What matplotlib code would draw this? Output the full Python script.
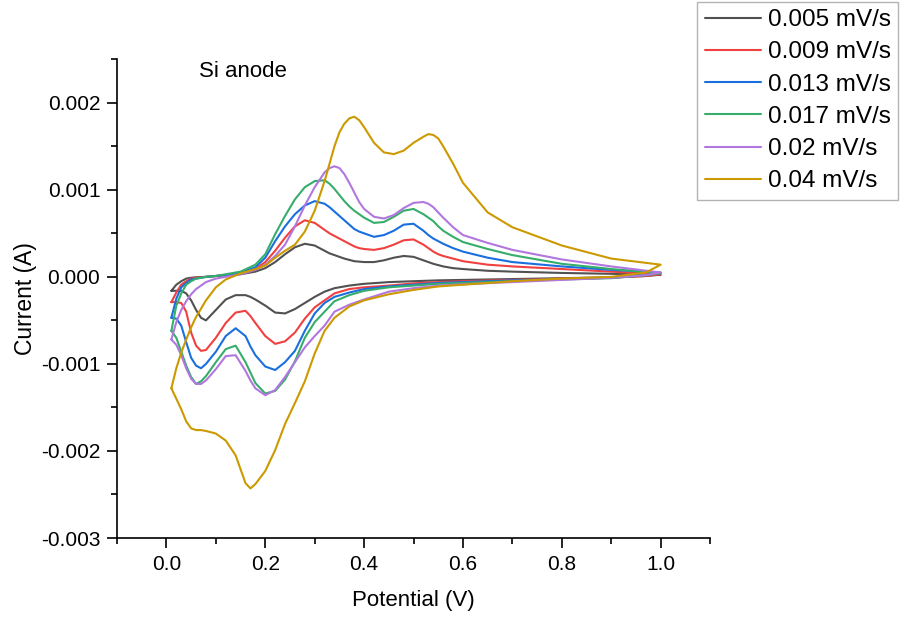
import numpy as np
import matplotlib
matplotlib.use("Agg")
import matplotlib.pyplot as plt
from matplotlib.ticker import MultipleLocator, FormatStrFormatter

plt.rcParams['font.family'] = ['Liberation Sans', 'DejaVu Sans']
plt.rcParams['axes.unicode_minus'] = False

# sweep potentials (V): anodic sweep 0.01 -> 1.0, then cathodic sweep back
pot_fwd = [0.01, 0.02, 0.03, 0.04, 0.05, 0.06, 0.08, 0.10, 0.12,
           0.15, 0.18, 0.20, 0.22, 0.24, 0.26, 0.28, 0.30,
           0.32, 0.33, 0.34, 0.35, 0.36, 0.37, 0.38, 0.39, 0.40,
           0.42, 0.44, 0.46, 0.48, 0.50, 0.52,
           0.53, 0.54, 0.55, 0.56, 0.58, 0.60,
           0.65, 0.70, 0.80, 0.90, 1.00]
pot_rev = [1.00, 0.97, 0.90, 0.80, 0.70, 0.60, 0.55, 0.50, 0.45, 0.40, 0.37, 0.34,
           0.32, 0.30, 0.28, 0.26, 0.24, 0.22, 0.20, 0.18, 0.17, 0.16, 0.14, 0.12,
           0.10, 0.08, 0.07, 0.06, 0.05, 0.04, 0.03, 0.02, 0.01]

labels = ['0.005 mV/s', '0.009 mV/s', '0.013 mV/s', '0.017 mV/s', '0.02 mV/s', '0.04 mV/s']
colors = ['#515151', '#F14040', '#1A6FDF', '#37AD6B', '#B177DE', '#CC9900']

# currents in mA
i_fwd_005 = [-0.16, -0.09, -0.05, -0.02, -0.01, -0.005, 0.0, 0.01, 0.02,
             0.03, 0.06, 0.10, 0.17, 0.26, 0.34, 0.38, 0.36,
             0.30, 0.27, 0.25, 0.23, 0.21, 0.195, 0.18, 0.175, 0.17,
             0.17, 0.19, 0.22, 0.24, 0.23, 0.19,
             0.17, 0.15, 0.135, 0.12, 0.10, 0.09,
             0.07, 0.06, 0.045, 0.035, 0.025]
i_rev_005 = [0.025, 0.01, -0.005, -0.015, -0.025, -0.035, -0.04, -0.05, -0.06, -0.08, -0.10, -0.13,
             -0.17, -0.23, -0.30, -0.37, -0.42, -0.41, -0.33, -0.26, -0.23, -0.21, -0.21, -0.26,
             -0.38, -0.50, -0.47, -0.38, -0.27, -0.19, -0.16, -0.16, -0.16]

i_fwd_009 = [-0.29, -0.18, -0.09, -0.05, -0.02, -0.01, 0.0, 0.01, 0.02,
             0.04, 0.09, 0.17, 0.30, 0.45, 0.58, 0.65, 0.62,
             0.54, 0.50, 0.47, 0.44, 0.41, 0.38, 0.35, 0.33, 0.32,
             0.31, 0.33, 0.37, 0.42, 0.43, 0.37,
             0.33, 0.29, 0.26, 0.24, 0.21, 0.18,
             0.14, 0.12, 0.09, 0.06, 0.03]
i_rev_009 = [0.03, 0.01, -0.01, -0.02, -0.035, -0.05, -0.06, -0.075, -0.10, -0.12, -0.14, -0.19,
             -0.27, -0.35, -0.48, -0.64, -0.74, -0.77, -0.68, -0.53, -0.45, -0.39, -0.41, -0.53,
             -0.70, -0.84, -0.85, -0.79, -0.64, -0.40, -0.30, -0.29, -0.29]

i_fwd_013 = [-0.47, -0.25, -0.12, -0.07, -0.03, -0.02, 0.0, 0.01, 0.02,
             0.05, 0.11, 0.22, 0.41, 0.58, 0.72, 0.82, 0.87,
             0.84, 0.80, 0.75, 0.70, 0.65, 0.60, 0.55, 0.52, 0.50,
             0.46, 0.48, 0.53, 0.60, 0.61, 0.53,
             0.48, 0.44, 0.41, 0.38, 0.33, 0.29,
             0.22, 0.17, 0.12, 0.08, 0.05]
i_rev_013 = [0.05, 0.02, -0.01, -0.025, -0.04, -0.06, -0.07, -0.09, -0.11, -0.14, -0.18, -0.23,
             -0.30, -0.42, -0.62, -0.85, -0.98, -1.07, -1.03, -0.90, -0.80, -0.68, -0.59, -0.68,
             -0.86, -1.00, -1.05, -1.02, -0.93, -0.75, -0.56, -0.48, -0.47]

i_fwd_017 = [-0.62, -0.33, -0.19, -0.09, -0.05, -0.02, 0.0, 0.01, 0.03,
             0.06, 0.14, 0.26, 0.49, 0.70, 0.89, 1.03, 1.10,
             1.11, 1.07, 1.01, 0.94, 0.87, 0.81, 0.76, 0.72, 0.68,
             0.62, 0.63, 0.69, 0.76, 0.78, 0.72,
             0.68, 0.64, 0.58, 0.53, 0.46, 0.40,
             0.32, 0.25, 0.15, 0.09, 0.04]
i_rev_017 = [0.04, 0.02, -0.015, -0.03, -0.05, -0.07, -0.08, -0.10, -0.12, -0.16, -0.21, -0.28,
             -0.40, -0.52, -0.70, -0.97, -1.18, -1.31, -1.34, -1.22, -1.10, -0.98, -0.79, -0.83,
             -0.98, -1.14, -1.20, -1.23, -1.15, -1.02, -0.86, -0.70, -0.62]

i_fwd_02 = [-0.72, -0.52, -0.38, -0.28, -0.20, -0.14, -0.06, -0.02, 0.0,
            0.03, 0.08, 0.14, 0.24, 0.37, 0.58, 0.82, 1.03,
            1.20, 1.25, 1.27, 1.25, 1.18, 1.08, 0.97, 0.86, 0.78,
            0.69, 0.67, 0.71, 0.79, 0.85, 0.86,
            0.84, 0.80, 0.74, 0.68, 0.57, 0.48,
            0.39, 0.31, 0.20, 0.12, 0.05]
i_rev_02 = [0.05, 0.02, -0.01, -0.035, -0.06, -0.085, -0.10, -0.13, -0.17, -0.26, -0.32, -0.40,
            -0.56, -0.68, -0.81, -0.98, -1.15, -1.30, -1.36, -1.28, -1.19, -1.08, -0.90, -0.91,
            -1.06, -1.19, -1.23, -1.23, -1.17, -1.05, -0.90, -0.78, -0.72]

i_fwd_04 = [-1.28, -1.05, -0.87, -0.72, -0.58, -0.46, -0.27, -0.12, -0.03,
            0.04, 0.09, 0.13, 0.22, 0.30, 0.37, 0.52, 0.76,
            1.10, 1.30, 1.50, 1.66, 1.76, 1.82, 1.84, 1.80, 1.72,
            1.54, 1.43, 1.41, 1.45, 1.54, 1.61,
            1.64, 1.63, 1.59, 1.50, 1.30, 1.08,
            0.74, 0.57, 0.36, 0.21, 0.14]
i_rev_04 = [0.14, 0.05, 0.0, -0.02, -0.05, -0.09, -0.11, -0.15, -0.20, -0.27, -0.34, -0.47,
            -0.62, -0.88, -1.20, -1.45, -1.69, -1.99, -2.23, -2.38, -2.43, -2.37, -2.05, -1.88,
            -1.80, -1.77, -1.76, -1.76, -1.74, -1.66, -1.52, -1.40, -1.28]

currents = [(i_fwd_005, i_rev_005), (i_fwd_009, i_rev_009), (i_fwd_013, i_rev_013),
            (i_fwd_017, i_rev_017), (i_fwd_02, i_rev_02), (i_fwd_04, i_rev_04)]

fig = plt.figure(figsize=(9, 6.17), dpi=100)
ax = fig.add_axes([0.13, 0.128, 0.659, 0.776])

for (fwd, rev), lab, col in zip(currents, labels, colors):
    pot = np.array(pot_fwd + pot_rev)
    cur = np.array(fwd + rev) * 1e-3
    ax.plot(pot, cur, color=col, lw=1.5, label=lab,
            solid_joinstyle='round', solid_capstyle='round')

ax.set_xlim(-0.1, 1.1)
ax.set_ylim(-0.003, 0.0025)
ax.xaxis.set_major_locator(MultipleLocator(0.2))
ax.xaxis.set_minor_locator(MultipleLocator(0.1))
ax.yaxis.set_major_locator(MultipleLocator(0.001))
ax.yaxis.set_minor_locator(MultipleLocator(0.0005))
ax.xaxis.set_major_formatter(FormatStrFormatter('%.1f'))
ax.yaxis.set_major_formatter(FormatStrFormatter('%.3f'))

for side in ['top', 'right']:
    ax.spines[side].set_visible(False)
for side in ['left', 'bottom']:
    ax.spines[side].set_linewidth(1.2)
ax.tick_params(which='major', direction='out', length=7, width=1.2, labelsize=15, pad=5)
ax.tick_params(which='minor', direction='out', length=4, width=1.2)

ax.set_xlabel('Potential (V)', fontsize=16, labelpad=12)
ax.set_ylabel('Current (A)', fontsize=16.5, labelpad=3)

ax.text(0.065, 0.00236, 'Si anode', fontsize=16, va='center', ha='left')

leg = fig.legend(loc='upper right', bbox_to_anchor=(0.998, 0.997), fontsize=17.5,
                 frameon=True, fancybox=False, edgecolor='#a0a0a0',
                 handlelength=2.3, handletextpad=0.3, labelspacing=0.42,
                 borderpad=0.3, borderaxespad=0)
leg.get_frame().set_linewidth(1.0)

fig.savefig('out.png', dpi=100)
